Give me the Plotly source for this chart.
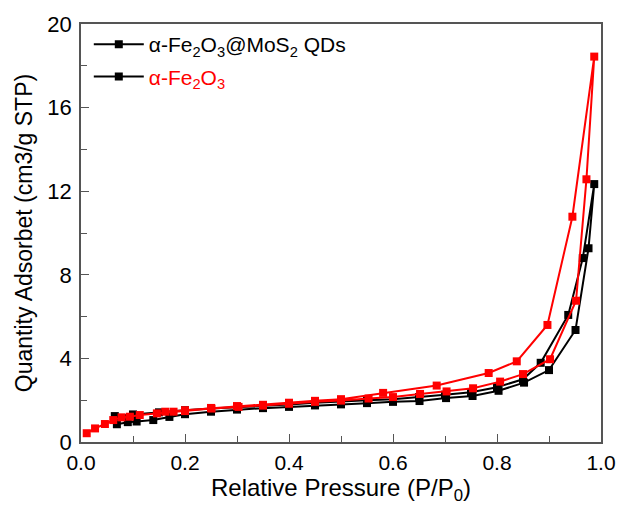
import plotly.graph_objects as go

# alpha-Fe2O3@MoS2 QDs (black): adsorption then desorption branch
qd_ads_p = [0.069, 0.09, 0.107, 0.139, 0.17, 0.2, 0.25, 0.3, 0.35, 0.4, 0.45, 0.5, 0.55, 0.6,
            0.651, 0.702, 0.753, 0.803, 0.852, 0.9, 0.951, 0.976, 0.987]
qd_ads_q = [0.85, 0.95, 0.98, 1.05, 1.2, 1.33, 1.45, 1.55, 1.62, 1.68, 1.75, 1.8, 1.86, 1.92,
            1.96, 2.1, 2.2, 2.45, 2.84, 3.44, 5.36, 9.27, 12.34]
qd_des_p = [0.965, 0.937, 0.884, 0.85, 0.8, 0.75, 0.7, 0.65, 0.6, 0.55, 0.5, 0.45, 0.4, 0.35,
            0.3, 0.25, 0.2, 0.15, 0.1, 0.065]
qd_des_q = [8.8, 6.08, 3.79, 3.0, 2.62, 2.38, 2.26, 2.15, 2.05, 2.0, 1.95, 1.88, 1.8, 1.74,
            1.68, 1.6, 1.52, 1.42, 1.32, 1.24]

# alpha-Fe2O3 (red): adsorption then desorption branch
fe_ads_p = [0.011, 0.027, 0.046, 0.062, 0.078, 0.094, 0.113, 0.146, 0.178, 0.2, 0.251, 0.303,
            0.35, 0.4, 0.45, 0.5, 0.553, 0.6, 0.652, 0.703, 0.754, 0.806, 0.85, 0.902, 0.952,
            0.972, 0.987]
fe_ads_q = [0.42, 0.65, 0.86, 1.05, 1.18, 1.21, 1.29, 1.37, 1.45, 1.48, 1.6, 1.68,
            1.74, 1.83, 1.92, 1.98, 2.08, 2.15, 2.3, 2.42, 2.57, 2.89, 3.25, 3.96, 6.76,
            12.57, 18.44]
fe_des_p = [0.945, 0.897, 0.838, 0.784, 0.684, 0.581, 0.5, 0.45, 0.4, 0.35, 0.3, 0.25, 0.2, 0.162]
fe_des_q = [10.78, 5.6, 3.86, 3.3, 2.7, 2.35, 2.05, 1.97, 1.88, 1.78, 1.72, 1.63, 1.52, 1.45]

name_qd = "α-Fe<sub>2</sub>O<sub>3</sub>@MoS<sub>2</sub> QDs"
name_fe = "<span style='color:#FF0000'>α-Fe<sub>2</sub>O<sub>3</sub></span>"
x_title = "Relative Pressure (P/P<sub>0</sub>)"
y_title = "Quantity Adsorbet (cm3/g STP)"

FONT = "Liberation Sans, Arial, sans-serif"

fig = go.Figure()
fig.add_trace(go.Scatter(
    x=qd_ads_p + qd_des_p, y=qd_ads_q + qd_des_q, mode="lines+markers",
    name=name_qd, legendgroup="a",
    line=dict(color="#000000", width=2),
    marker=dict(symbol="square", size=8, color="#000000")))
fig.add_trace(go.Scatter(
    x=fe_ads_p + fe_des_p, y=fe_ads_q + fe_des_q, mode="lines+markers",
    showlegend=False,
    line=dict(color="#FF0000", width=2),
    marker=dict(symbol="square", size=8, color="#FF0000")))
# legend entry for the red series (drawn with a black sample, as in the original)
fig.add_trace(go.Scatter(
    x=[None], y=[None], mode="lines+markers", name=name_fe, legendgroup="b",
    line=dict(color="#000000", width=2),
    marker=dict(symbol="square", size=8, color="#000000")))

axis_common = dict(
    showgrid=False, zeroline=False, showline=True, linecolor="#555555", linewidth=1.5,
    mirror=True, ticks="inside", ticklen=8, tickwidth=1.2, tickcolor="#555555",
    automargin=False,
)

fig.update_layout(
    width=619, height=505,
    margin=dict(l=81, r=18, t=24, b=63),
    paper_bgcolor="white", plot_bgcolor="white",
    font=dict(family=FONT, color="#000000"),
    xaxis=dict(range=[0, 1.0], dtick=0.2, tickformat=".1f", ticklabelstandoff=1,
               tickfont=dict(family=FONT, size=21, color="#000000"),
               minor=dict(dtick=0.1, ticks="inside", ticklen=6, tickcolor="#555555"),
               **axis_common),
    yaxis=dict(range=[0, 20], dtick=4, ticklabelstandoff=3,
               tickfont=dict(family=FONT, size=22, color="#000000"),
               minor=dict(dtick=2, ticks="inside", ticklen=6, tickcolor="#555555"),
               title=dict(text=y_title, font=dict(size=23), standoff=8),
               **axis_common),
    legend=dict(x=0.015, y=1.0, xanchor="left", yanchor="top",
                bgcolor="rgba(0,0,0,0)", font=dict(size=21), itemwidth=50,
                traceorder="grouped", tracegroupgap=2),
    showlegend=True,
    annotations=[dict(text=x_title, xref="paper", yref="paper", x=0.5, y=0,
                      xanchor="center", yanchor="middle", yshift=-47, showarrow=False,
                      font=dict(family=FONT, size=24, color="#000000"))],
)

fig.write_html("out.html")
